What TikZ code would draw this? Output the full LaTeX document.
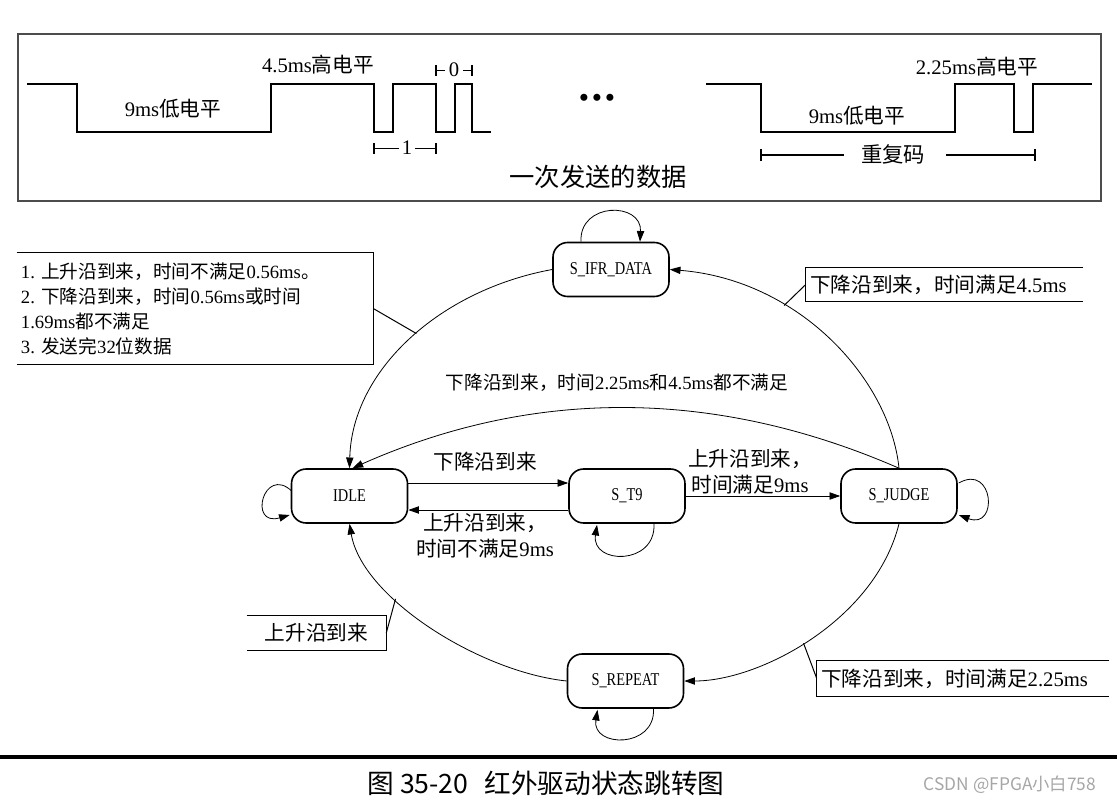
\documentclass[tikz,border=0pt]{standalone}
\usepackage{fontspec}
\setmainfont{Liberation Serif}
\newfontfamily\cjk{Noto Sans CJK SC}
\usetikzlibrary{arrows.meta,calc,positioning}

\newcommand{\zh}[1]{{\cjk #1}}
\newcommand{\sname}[1]{\scalebox{0.8}[1]{#1}}

\begin{document}
\begin{tikzpicture}[x=0.75pt,y=-0.75pt,
    stbox/.style={rectangle,rounded corners=11pt,draw,line width=1.2pt,minimum width=87pt,minimum height=40.5pt,inner sep=0pt,font=\fontsize{13.5}{15}\selectfont},
    arrow/.style={-{Triangle[length=8pt,width=5.5pt]},line width=0.6pt},
    wave/.style={line width=1.1pt},
    lbl/.style={align=center,inner sep=1pt,font=\fontsize{15.5}{19.5}\selectfont},
    callout/.style={inner ysep=0pt,inner xsep=3pt,align=left,font=\fontsize{15.5}{18}\selectfont},
    frame/.style={line width=0.75pt}
]
\useasboundingbox (0,0) rectangle (1117,805);

% === Waveform panel ===
\draw[gray!60!black,line width=1.1pt] (18,34) rectangle (1101,201);

\draw[wave] (27,84) -- (77,84) -- (77,132) -- (271,132) -- (271,84) -- (374,84) -- (374,132) -- (393,132)
    -- (393,84) -- (436,84) -- (436,132) -- (455,132) -- (455,84) -- (472,84) -- (472,132) -- (491,132);
\node[lbl] (lo1) at (173,109) {9ms\zh{低电平}};
\node[lbl] (hi1) at (318,65) {4.5ms\zh{高电平}};

% bit widths
\draw[line width=0.8pt] (436,65) -- (436,76) (436,70.5) -- (445,70.5) (463,70.5) -- (472,70.5) (472,65) -- (472,76);
\node[lbl] (bit0) at (454,70) {0};
\draw[line width=0.8pt] (374,143) -- (374,154) (374,148.5) -- (399,148.5) (415,148.5) -- (436,148.5) (436,143) -- (436,154);
\node[lbl] (bit1) at (407,148) {1};

\node[font=\fontsize{22}{24}\selectfont] (dots) at (597,101) {\textbullet\hspace{2pt}\textbullet\hspace{2pt}\textbullet};

\draw[wave] (706,84) -- (761,84) -- (761,132) -- (955,132) -- (955,84) -- (1014,84) -- (1014,132) -- (1033,132)
    -- (1033,84) -- (1092,84);
\node[lbl] (hi2) at (977,67) {2.25ms\zh{高电平}};
\node[lbl] (lo2) at (857,116) {9ms\zh{低电平}};

% repeat code span
\draw[line width=0.8pt] (761,149) -- (761,161) (761,155) -- (844,155) (946,155) -- (1035,155) (1035,149) -- (1035,161);
\node[lbl,font=\fontsize{16}{19}\selectfont] (rcode) at (893,154) {\zh{重复码}};
\node[font=\fontsize{19}{22}\selectfont] (frame1) at (598,177) {\zh{一次发送的数据}};

% === States ===
\node[stbox] (ifr) at (611,269.5) {\sname{S\_IFR\_DATA}};
\node[stbox] (idle) at (349.5,496) {\sname{IDLE}};
\node[stbox] (st9) at (627,496) {\sname{S\_T9}};
\node[stbox] (judge) at (899,496) {\sname{S\_JUDGE}};
\node[stbox] (rep) at (625.5,681) {\sname{S\_REPEAT}};

% === Transitions ===
\draw[arrow] ($(idle.east)+(0,-13)$) -- ($(st9.west)+(0,-13)$);
\draw[arrow] ($(st9.west)+(0,14)$) -- ($(idle.east)+(0,14)$);
\draw[arrow] (st9.east) -- (judge.west);

\draw[arrow] (ifr.west) .. controls (440,290) and (352,370) .. (idle.north) coordinate[pos=0.47] (pNote);
\draw[arrow] (judge.north) .. controls (890,380) and (800,280) .. (ifr.east) coordinate[pos=0.67] (p45);
\draw[arrow] (judge.north) .. controls (715,388) and (533,388) .. ($(idle.north)+(3,0)$);
\draw[arrow] (judge.south) .. controls (875,620) and (760,681) .. (rep.east) coordinate[pos=0.53] (p225);
\draw[arrow] (rep.west) .. controls (480,672) and (362,598) .. (idle.south) coordinate[pos=0.65] (pUp);

% self loops
\draw[arrow] ($(idle.west)+(1,-5)$) .. controls +(-28,-26) and +(-42,12) .. ($(idle.west)+(-1,19)$);
\draw[arrow] ($(st9.south)+(27,0)$) .. controls +(2,42) and +(-6,40) .. ($(st9.south)+(-30,1)$);
\draw[arrow] ($(rep.south)+(28,0)$) .. controls +(2,40) and +(-6,38) .. ($(rep.south)+(-28,1)$);
\draw[arrow] ($(judge.east)+(1,-13)$) .. controls +(35,-20) and +(40,15) .. ($(judge.east)+(1,19)$);
\draw[arrow] ($(ifr.north)+(-30,0)$) .. controls +(-2,-40) and +(2,-40) .. ($(ifr.north)+(29,0)$);

% === Edge labels ===
\node[lbl] (tFall) at (485,462) {\zh{下降沿到来}};
\node[lbl] (tBack) at (485,536) {\zh{上升沿到来，}\\\zh{时间不满足}9ms};
\node[lbl] (tOk) at (750,471.5) {\zh{上升沿到来，}\\\zh{时间满足}9ms};
\node[lbl,font=\fontsize{14}{17}\selectfont] (tNone) at (617,383) {\zh{下降沿到来，时间}2.25ms\zh{和}4.5ms\zh{都不满足}};

% === Callouts ===
\node[callout,text width=261pt,minimum height=83.25pt,font=\fontsize{14}{18.75}\selectfont] (note) at (195,308.5)
    {1.\ \zh{上升沿到来，时间不满足}0.56ms\zh{。}\\2.\ \zh{下降沿到来，时间}0.56ms\zh{或时间}\\1.69ms\zh{都不满足}\\3.\ \zh{发送完}32\zh{位数据}};
\draw[frame] (note.north west) -- (note.north east) -- (note.south east) -- (note.south west);
\draw[frame] (note.east) -- (pNote);

\node[callout,text width=201.75pt,minimum height=24.75pt] (l45) at (944.5,284.5) {\zh{下降沿到来，时间满足}4.5ms};
\draw[frame] (l45.north east) -- (l45.north west) -- (l45.south west) -- (l45.south east);
\draw[frame] (l45.west) -- (p45);

\node[callout,text width=213pt,minimum height=26.25pt] (l225) at (963,678.5) {\zh{下降沿到来，时间满足}2.25ms};
\draw[frame] (l225.north east) -- (l225.north west) -- (l225.south west) -- (l225.south east);
\draw[frame] (l225.west) -- (p225);

\node[callout,align=center,text width=98.25pt,minimum height=25.5pt] (lup) at (316.5,633) {\zh{上升沿到来}};
\draw[frame] (lup.north west) -- (lup.north east) -- (lup.south east) -- (lup.south west);
\draw[frame] (lup.east) -- (pUp);

% === Caption ===
\draw[line width=2.3pt] (0,757) -- (1117,757);
\node[font=\cjk\fontsize{20}{24}\selectfont] (cap) at (546,783) {图 35-20\hspace{0.6em}红外驱动状态跳转图};
\node[font=\cjk\fontsize{13}{15}\selectfont,text=gray!70] (wm) at (1010,785) {CSDN @FPGA小白758};

\end{tikzpicture}
\end{document}
